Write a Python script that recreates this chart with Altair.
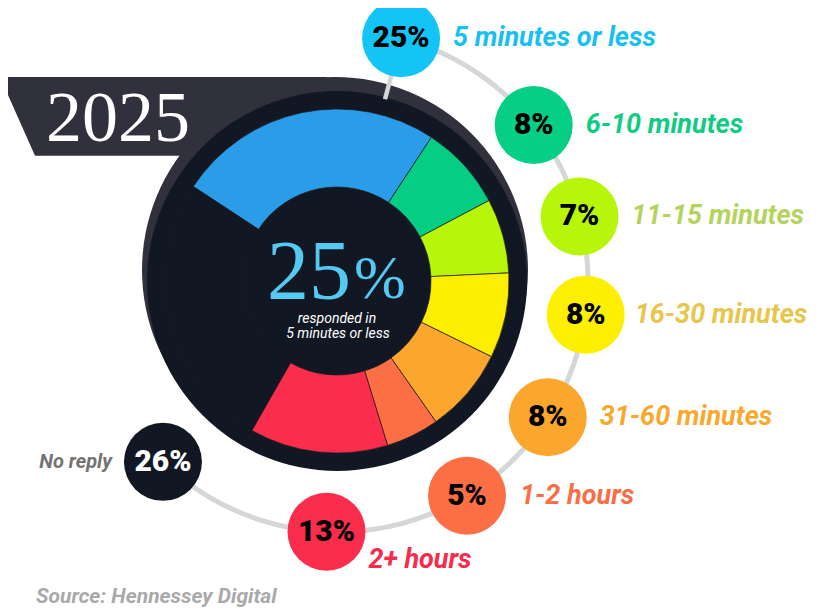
import math
import altair as alt
import pandas as pd

# ---------------- data ----------------
CATEGORIES = ["5 minutes or less", "6-10 minutes", "11-15 minutes", "16-30 minutes",
              "31-60 minutes", "1-2 hours", "2+ hours", "No reply"]
SHARES = [25, 8, 7, 8, 8, 5, 13, 26]
YEAR = "2025"
CENTER_NOTE = "responded in"
SOURCE = "Source: Hennessey Digital"

# ---------------- styles ----------------
SLICE_COLORS = ["#2b9de8", "#05cd84", "#b7f60b", "#fcee00", "#fba72d", "#fc6f45", "#fb2d4d", "#111824"]
BUBBLE_COLORS = ["#12c5f6", "#05cf84", "#b7f60b", "#fcf000", "#fba72d", "#fc6f45", "#fb2d4d", "#111824"]
LABEL_COLORS = ["#17c0f2", "#10cb83", "#b3d45c", "#e8c64b", "#f9a82e", "#f96e45", "#f52c4d", "#737373"]
BUBBLE_TEXT_COLORS = ["#000000"] * 7 + ["#ffffff"]
DARK = "#111824"
SHADOW = "#30313c"
TRACK = "#d4d6d8"

# ---------------- layout ----------------
LABEL_ANGLE_DEG = [14.8, 51.6, 75.1, 97.7, 122.9, 148.8, 182.4, 223.9]
LABEL_DX = [52, 52, 52, 49, 52, 53, 42, -51]
LABEL_DY = [0, 0, 0, 0, 0, 0, 28, 0]
R_LABEL = 251
R_BUBBLE = 39
START = math.radians(-56.7)

df = pd.DataFrame({
    "idx": list(range(len(CATEGORIES))),
    "category": CATEGORIES,
    "share": SHARES,
    "angle": LABEL_ANGLE_DEG,
    "ldx": LABEL_DX,
    "ldy": LABEL_DY,
})

XS = alt.Scale(domain=[-329, 473], nice=False, zero=False)
YS = alt.Scale(domain=[-327, 273], nice=False, zero=False)


def X(f):
    return alt.X(f, type="quantitative", scale=XS, axis=None)


def Y(f):
    return alt.Y(f, type="quantitative", scale=YS, axis=None)


def XD(v):
    return alt.XDatum(v, type="quantitative", scale=XS, axis=None)


def YD(v):
    return alt.YDatum(v, type="quantitative", scale=YS, axis=None)


one = alt.Chart(pd.DataFrame({"k": [0]}))

# banner behind the circle
banner_df = pd.DataFrame({"by": [204, 125.3], "bl": [-337, -302], "br": [-10, -10]})
banner = alt.Chart(banner_df).mark_area(orient="horizontal", color=SHADOW, clip=True).encode(
    y=Y("by"), x=X("bl"), x2=alt.X2("br"))

year = one.mark_text(font="Liberation Serif", fontSize=72, color="white", align="center",
                     baseline="alphabetic").encode(x=XD(-219), y=YD(140), text=alt.value(YEAR))

shadow = one.mark_arc(radius=193, theta=0, theta2=2 * math.pi, color=SHADOW).encode(x=XD(-2), y=YD(11))
disc = one.mark_arc(radius=190, theta=0, theta2=2 * math.pi, color=DARK).encode(x=XD(0), y=YD(0))

slices = alt.Chart(df).mark_arc(radius=172, radius2=94, stroke="#1b1b1b", strokeWidth=0.7).encode(
    x=XD(0), y=YD(0),
    theta=alt.Theta("share:Q", stack=True, scale=alt.Scale(range=[START, START + 2 * math.pi])),
    order=alt.Order("idx:Q", sort="ascending"),
    color=alt.Color("category:N", scale=alt.Scale(domain=CATEGORIES, range=SLICE_COLORS), legend=None),
)

first = alt.Chart(df).transform_filter("datum.idx == 0")
big_num = first.mark_text(font="Liberation Serif", fontSize=84, color="#54c9f2", align="right",
                          baseline="alphabetic").encode(x=XD(14), y=YD(-18), text=alt.Text("share:Q"))
big_pct = first.mark_text(font="Liberation Serif", fontSize=62, color="#54c9f2", align="left",
                          baseline="alphabetic").encode(x=XD(17), y=YD(-17), text=alt.value("%"))
note1 = one.mark_text(font="Roboto", fontStyle="italic", fontSize=14, color="white", align="center",
                      baseline="middle").encode(x=XD(0), y=YD(-38), text=alt.value(CENTER_NOTE))
note2 = first.mark_text(font="Roboto", fontStyle="italic", fontSize=14, color="white", align="center",
                        baseline="middle").encode(x=XD(1), y=YD(-53), text=alt.Text("category:N"))

track = one.mark_arc(radius=R_LABEL + 2.5, radius2=R_LABEL - 2.5,
                     theta=math.radians(LABEL_ANGLE_DEG[0]), theta2=math.radians(LABEL_ANGLE_DEG[-1]),
                     color=TRACK).encode(x=XD(0), y=YD(0))

bub = alt.Chart(df).transform_calculate(
    bx=f"{R_LABEL}*sin(datum.angle*PI/180)",
    by=f"{R_LABEL}*cos(datum.angle*PI/180)",
    ptxt="datum.share + '%'",
)

connector = bub.transform_filter("datum.idx == 0").transform_calculate(
    cx1="188*sin(datum.angle*PI/180)", cy1="188*cos(datum.angle*PI/180)",
    cx2="214*sin(datum.angle*PI/180)", cy2="214*cos(datum.angle*PI/180)",
).mark_rule(color=TRACK, strokeWidth=4.5).encode(x=X("cx1"), y=Y("cy1"), x2=alt.X2("cx2"), y2=alt.Y2("cy2"))

# Vega circle symbol: radius = sqrt(size) / 2
bubbles = bub.mark_circle(size=(2 * R_BUBBLE) ** 2, opacity=1).encode(
    x=X("bx"), y=Y("by"),
    color=alt.Color("category:N", scale=alt.Scale(domain=CATEGORIES, range=BUBBLE_COLORS), legend=None),
)

bubble_text = bub.mark_text(font="Roboto", fontWeight=900, fontSize=30, align="center",
                            baseline="middle").encode(
    x=X("bx"), y=Y("by"), text=alt.Text("ptxt:N"),
    color=alt.Color("category:N", scale=alt.Scale(domain=CATEGORIES, range=BUBBLE_TEXT_COLORS), legend=None),
)

lab = bub.transform_calculate(lx="datum.bx + datum.ldx", ly="datum.by - datum.ldy")
lab_color = alt.Color("category:N", scale=alt.Scale(domain=CATEGORIES, range=LABEL_COLORS), legend=None)
labels_right = lab.transform_filter("datum.ldx > 0").mark_text(
    font="Roboto", fontWeight="bold", fontStyle="italic", fontSize=27, align="left", baseline="middle"
).encode(x=X("lx"), y=Y("ly"), text=alt.Text("category:N"), color=lab_color)
labels_left = lab.transform_filter("datum.ldx < 0").mark_text(
    font="Roboto", fontWeight="bold", fontStyle="italic", fontSize=20, align="right", baseline="middle"
).encode(x=X("lx"), y=Y("ly"), text=alt.Text("category:N"), color=lab_color)

source = one.mark_text(font="Roboto", fontWeight="bold", fontStyle="italic", fontSize=21,
                       color="#a9a9a9", align="left", baseline="middle").encode(
    x=alt.value(28), y=alt.value(589), text=alt.value(SOURCE))

chart = alt.layer(
    banner, year, shadow, disc, slices, big_num, big_pct, note1, note2,
    track, connector, bubbles, bubble_text, labels_right, labels_left, source,
).resolve_scale(color="independent").properties(
    width=802, height=600, autosize=alt.AutoSizeParams(type="none"), padding=0,
).configure(background="white", view=alt.ViewConfig(stroke=None))

chart.save("out.html", embed_options={"renderer": "svg", "actions": False})
